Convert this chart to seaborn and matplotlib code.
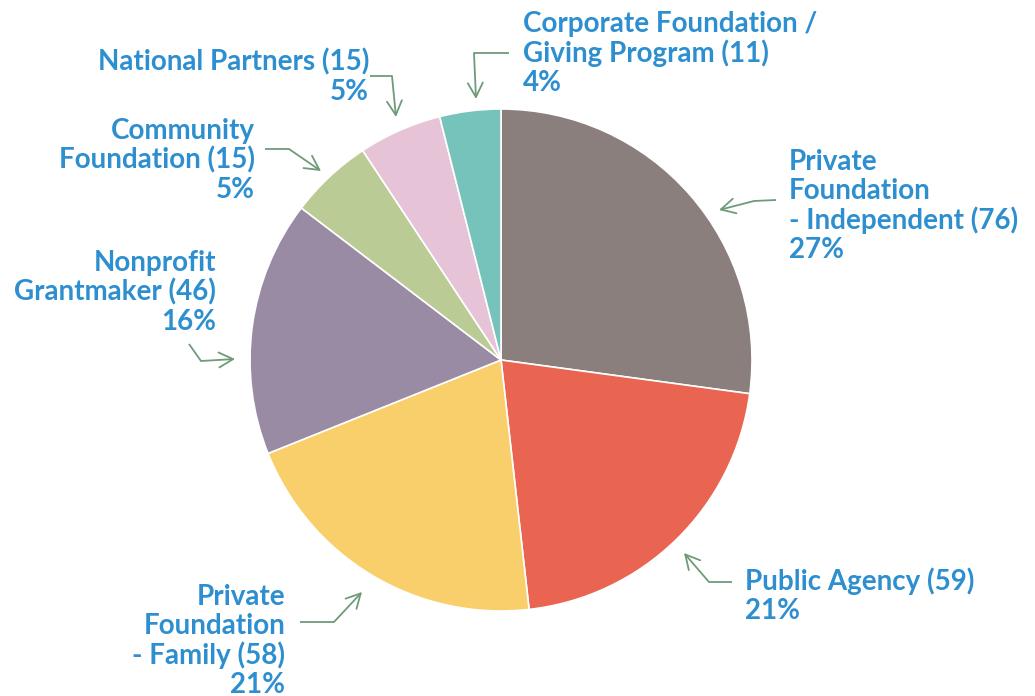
import matplotlib
matplotlib.use("Agg")
import matplotlib.pyplot as plt
import seaborn as sns

# ---- data ----
categories = [
    "Private\nFoundation\n- Independent",
    "Public Agency",
    "Private\nFoundation\n- Family",
    "Nonprofit\nGrantmaker",
    "Community\nFoundation",
    "National Partners",
    "Corporate Foundation /\nGiving Program",
]
counts = [76, 59, 58, 46, 15, 15, 11]
percents = ["27%", "21%", "21%", "16%", "5%", "5%", "4%"]
colors = ["#8A7F7C", "#E96551", "#F9CF6B", "#9A8BA5", "#BACB95", "#E7C3D7", "#75C3BA"]

# ---- layout (pixel positions in the 1035x696 canvas) ----
W, H = 1035, 696
CX, CY, R = 501, 360, 251
LINE = 29.3

def px(x, y):
    return ((x - CX) / R, (CY - y) / R)

label_pos = [  # (x, y center of first line, ha)
    (789, 160, "left"),
    (745, 579, "left"),
    (285, 595, "right"),
    (216, 261, "right"),
    (255, 129, "right"),
    (369, 60, "right"),
    (523, 22, "left"),
]
arrow_paths = [  # tail, bend, tip
    ((776, 200), (754, 201), (719, 210)),
    ((732, 582), (709, 582), (684, 553)),
    ((300, 622), (334, 622), (362, 592)),
    ((189, 344), (201, 361), (235, 359)),
    ((265, 149), (289, 149), (321, 171)),
    ((370, 76), (392, 76), (396, 117)),
    ((509, 53), (474, 53), (476, 99)),
]

sns.set_theme(style="white")
plt.rcParams["font.family"] = ["Lato", "DejaVu Sans"]

fig = plt.figure(figsize=(W / 100, H / 100), dpi=100)
ax = fig.add_axes([0, 0, 1, 1])

ax.pie(counts, colors=colors, startangle=90, counterclock=False, radius=1,
       center=(0, 0), frame=True,
       wedgeprops=dict(edgecolor="white", linewidth=1.2))
ax.set_xlim(-CX / R, (W - CX) / R)
ax.set_ylim(-(H - CY) / R, CY / R)
ax.set_aspect("equal")
ax.axis("off")

text_color = "#2D8FCF"
line_color = "#6F9B79"
for cat, n, pct, (lx, ly, ha) in zip(categories, counts, percents, label_pos):
    txt = f"{cat} ({n})\n{pct}"
    nlines = txt.count("\n") + 1
    cy = ly + (nlines - 1) * LINE / 2 + 2
    x, y = px(lx, cy)
    ax.text(x, y, txt, ha=ha, va="center", color=text_color, fontsize=20,
            fontweight="bold", linespacing=1.13, multialignment=ha)

for tail, bend, tip in arrow_paths:
    t = px(*tail); b = px(*bend); p = px(*tip)
    ax.plot([t[0], b[0]], [t[1], b[1]], color=line_color, lw=1.3,
            solid_capstyle="butt")
    ax.annotate("", xy=p, xytext=b,
                arrowprops=dict(arrowstyle="->,head_length=0.85,head_width=0.45",
                                color=line_color, lw=1.3,
                                shrinkA=0, shrinkB=0))

fig.savefig("out.png", dpi=100)
